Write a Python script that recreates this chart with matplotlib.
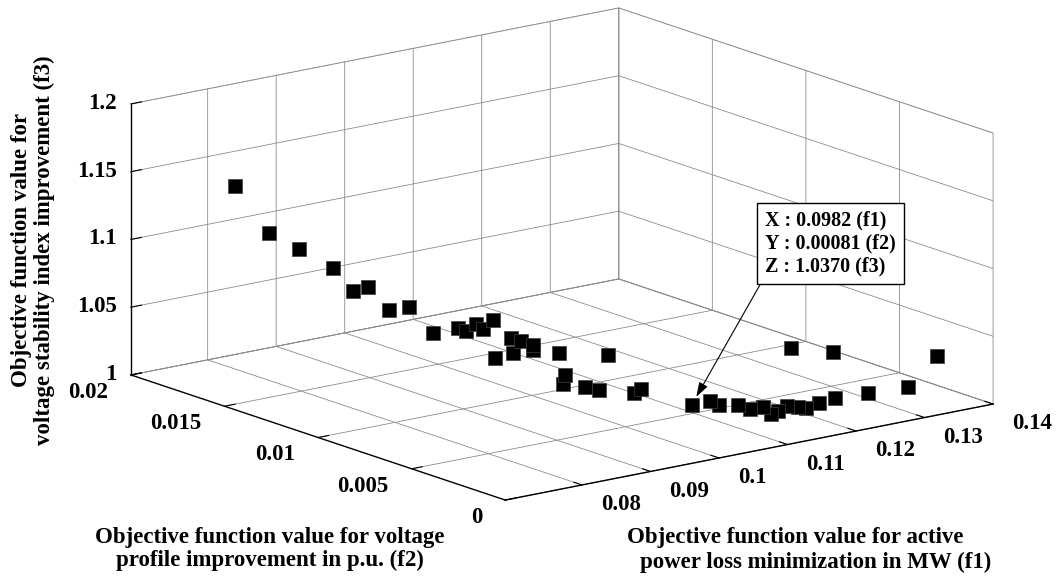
import numpy as np
import matplotlib
matplotlib.use('Agg')
import matplotlib.pyplot as plt
from mpl_toolkits.mplot3d import proj3d

# ---------------- data ----------------
f1 = [0.0758, 0.0775, 0.0789, 0.0805, 0.0816, 0.0823, 0.0833, 0.0843, 0.0855, 0.0867,
      0.0871, 0.0876, 0.0879, 0.0884, 0.0893, 0.0898, 0.0904, 0.0904, 0.0885, 0.0894,
      0.0916, 0.0940, 0.0919, 0.0918, 0.0929, 0.0936, 0.0953, 0.0956, 0.0982, 0.1006,
      0.1017, 0.1042, 0.1065, 0.1080, 0.1089, 0.1102, 0.1118, 0.1131, 0.1140, 0.1162,
      0.1188, 0.1234, 0.1290, 0.1122, 0.1185, 0.1335]
f2 = [0.0170, 0.0158, 0.0147, 0.0135, 0.0128, 0.0123, 0.0115, 0.0108, 0.00995, 0.0091,
      0.00882, 0.00846, 0.00817, 0.00782, 0.00718, 0.00682, 0.0064, 0.0064, 0.00778, 0.00714,
      0.00546, 0.00376, 0.00529, 0.00532, 0.00454, 0.00408, 0.00284, 0.00258, 0.00081, 0.0007,
      0.0006, 0.0005, 0.0007, 0.0006, 0.0005, 0.0006, 0.0007, 0.0006, 0.0005, 0.0006,
      0.0007, 0.0006, 0.0005, 0.0006, 0.0007, 0.0006]
f3 = [1.1464, 1.1156, 1.1073, 1.0971, 1.0825, 1.0872, 1.0726, 1.0770, 1.0607, 1.0672,
      1.0659, 1.0722, 1.0694, 1.0772, 1.0660, 1.0650, 1.0634, 1.0597, 1.0494, 1.0551,
      1.0606, 1.0646, 1.0449, 1.0380, 1.0384, 1.0377, 1.0395, 1.0434, 1.0370, 1.0380,
      1.0346, 1.0329, 1.0261, 1.0269, 1.0216, 1.0217, 1.0231, 1.0218, 1.0209, 1.0217,
      1.0220, 1.0218, 1.0215, 1.0662, 1.0563, 1.0392]
tip_index = 28
tip_lines = ["X : 0.0982 (f1)", "Y : 0.00081 (f2)", "Z : 1.0370 (f3)"]

x_lim = (0.0688, 0.14)
y_lim = (0.0, 0.02)
z_lim = (1.0, 1.2)
x_ticks = [0.08, 0.09, 0.10, 0.11, 0.12, 0.13, 0.14]
x_ticklabels = ['0.08', '0.09', '0.1', '0.11', '0.12', '0.13', '0.14']
y_ticks = [0.0, 0.005, 0.01, 0.015, 0.02]
y_ticklabels = ['0', '0.005', '0.01', '0.015', '0.02']
z_ticks = [1.0, 1.05, 1.1, 1.15, 1.2]
z_ticklabels = ['1', '1.05', '1.1', '1.15', '1.2']

x_label = ["Objective function value for active", "power loss minimization in MW (f1)"]
y_label = "Objective function value for voltage\nprofile improvement in p.u. (f2)"
z_label = "Objective function value for\nvoltage stability index improvement (f3)"

# ---------------- style ----------------
plt.rcParams['font.family'] = ['Liberation Serif', 'DejaVu Serif']
plt.rcParams['font.weight'] = 'bold'
plt.rcParams['grid.color'] = '0.55'
plt.rcParams['grid.linewidth'] = 0.6

FS = 16.5
W, H = 1062, 579
fig = plt.figure(figsize=(W / 100, H / 100), dpi=100)
ax = fig.add_axes([0.1, 0.05, 0.8, 0.9], projection='3d', proj_type='ortho')
ax.set_box_aspect((1, 1, 0.456))
ax.view_init(elev=14.86, azim=-127.5)
ax.set_xlim(*x_lim)
ax.set_ylim(*y_lim)
ax.set_zlim(*z_lim)

ax.set_xticks(x_ticks)
ax.set_xticklabels(x_ticklabels, fontsize=FS, fontweight='bold')
ax.set_yticks(y_ticks)
ax.set_yticklabels(y_ticklabels, fontsize=FS, fontweight='bold')
ax.set_zticks(z_ticks)
ax.set_zticklabels(z_ticklabels, fontsize=FS, fontweight='bold')
ax.tick_params(axis='x', pad=8.6)
ax.tick_params(axis='y', pad=7.8)
ax.tick_params(axis='z', pad=-2.6)
for lab in ax.xaxis.get_majorticklabels():
    lab.set_ha('left')
    lab.set_va('center')
for lab in ax.yaxis.get_majorticklabels():
    lab.set_ha('right')
    lab.set_va('center')
for lab in ax.zaxis.get_majorticklabels():
    lab.set_ha('right')
    lab.set_va('center')

for axis in (ax.xaxis, ax.yaxis, ax.zaxis):
    axis.pane.set_facecolor('white')
    axis.pane.set_edgecolor('0.45')
    axis.pane.set_linewidth(0.6)
    axis.line.set_color('black')
    axis.line.set_linewidth(1.0)
    axis._axinfo['tick']['inward_factor'] = 0.0
    axis._axinfo['tick']['outward_factor'] = 0.27
    axis._axinfo['tick']['color'] = 'black'
    axis._axinfo['grid']['color'] = '0.55'
    axis._axinfo['grid']['linewidth'] = 0.6

ax.scatter(f1, f2, f3, marker='s', s=110, c='black', edgecolors='0.25',
           linewidths=0.5, depthshade=False)

# ---------------- fit projected box to layout ----------------
corners = [(x_lim[0], y_lim[1], z_lim[0]), (x_lim[0], y_lim[0], z_lim[0]),
           (x_lim[1], y_lim[0], z_lim[0]), (x_lim[1], y_lim[1], z_lim[1]),
           (x_lim[0], y_lim[1], z_lim[1]), (x_lim[1], y_lim[0], z_lim[1])]
targets = [(131, 375), (504, 500), (993, 404), (620, 8), (131, 104), (993, 133)]


def fit_box():
    fig.canvas.draw()
    M = ax.get_proj()
    xs, ys, zs = (np.array(c) for c in zip(*corners))
    px, py, _ = proj3d.proj_transform(xs, ys, zs, M)
    D = ax.transData.transform(np.column_stack([px, py]))
    T = np.array([(tx, H - ty) for tx, ty in targets], dtype=float)
    Dm, Tm = D.mean(0), T.mean(0)
    k = ((D - Dm) * (T - Tm)).sum() / ((D - Dm) ** 2).sum()
    bb = ax.get_position()
    x0, y0, w, h = bb.x0 * W, bb.y0 * H, bb.width * W, bb.height * H
    nx0 = Tm[0] + k * (x0 - Dm[0])
    ny0 = Tm[1] + k * (y0 - Dm[1])
    ax.set_position([nx0 / W, ny0 / H, k * w / W, k * h / H])


fit_box()
fit_box()
fig.canvas.draw()

# ---------------- data tip ----------------
M = ax.get_proj()
tx, ty, _ = proj3d.proj_transform(np.array([f1[tip_index]]), np.array([f2[tip_index]]),
                                  np.array([f3[tip_index]]), M)
ax.annotate("\n".join(tip_lines), xy=(tx[0], ty[0]), xycoords='data',
            xytext=(765, H - 276), textcoords='figure pixels',
            ha='left', va='bottom', fontsize=14.5, fontweight='bold', linespacing=1.17,
            bbox=dict(boxstyle='square,pad=0.4', fc='white', ec='black', lw=1.0),
            arrowprops=dict(arrowstyle='-|>,head_length=0.6,head_width=0.2', color='black',
                            lw=0.8, relpos=(0, 0), shrinkA=0, shrinkB=7),
            zorder=10)

# ---------------- axis labels ----------------
fig.text(33 / W, 1 - 250 / H, z_label, rotation=90, ha='center', va='center',
         fontsize=FS, fontweight='bold', linespacing=1.1)
fig.text(270 / W, 1 - 549 / H, y_label, ha='center', va='center',
         fontsize=FS, fontweight='bold', linespacing=1.1)
fig.text(795 / W, 1 - 537 / H, x_label[0], ha='center', va='center',
         fontsize=FS, fontweight='bold')
fig.text(816 / W, 1 - 562 / H, x_label[1], ha='center', va='center',
         fontsize=FS, fontweight='bold')

fig.savefig('out.png', dpi=100)
